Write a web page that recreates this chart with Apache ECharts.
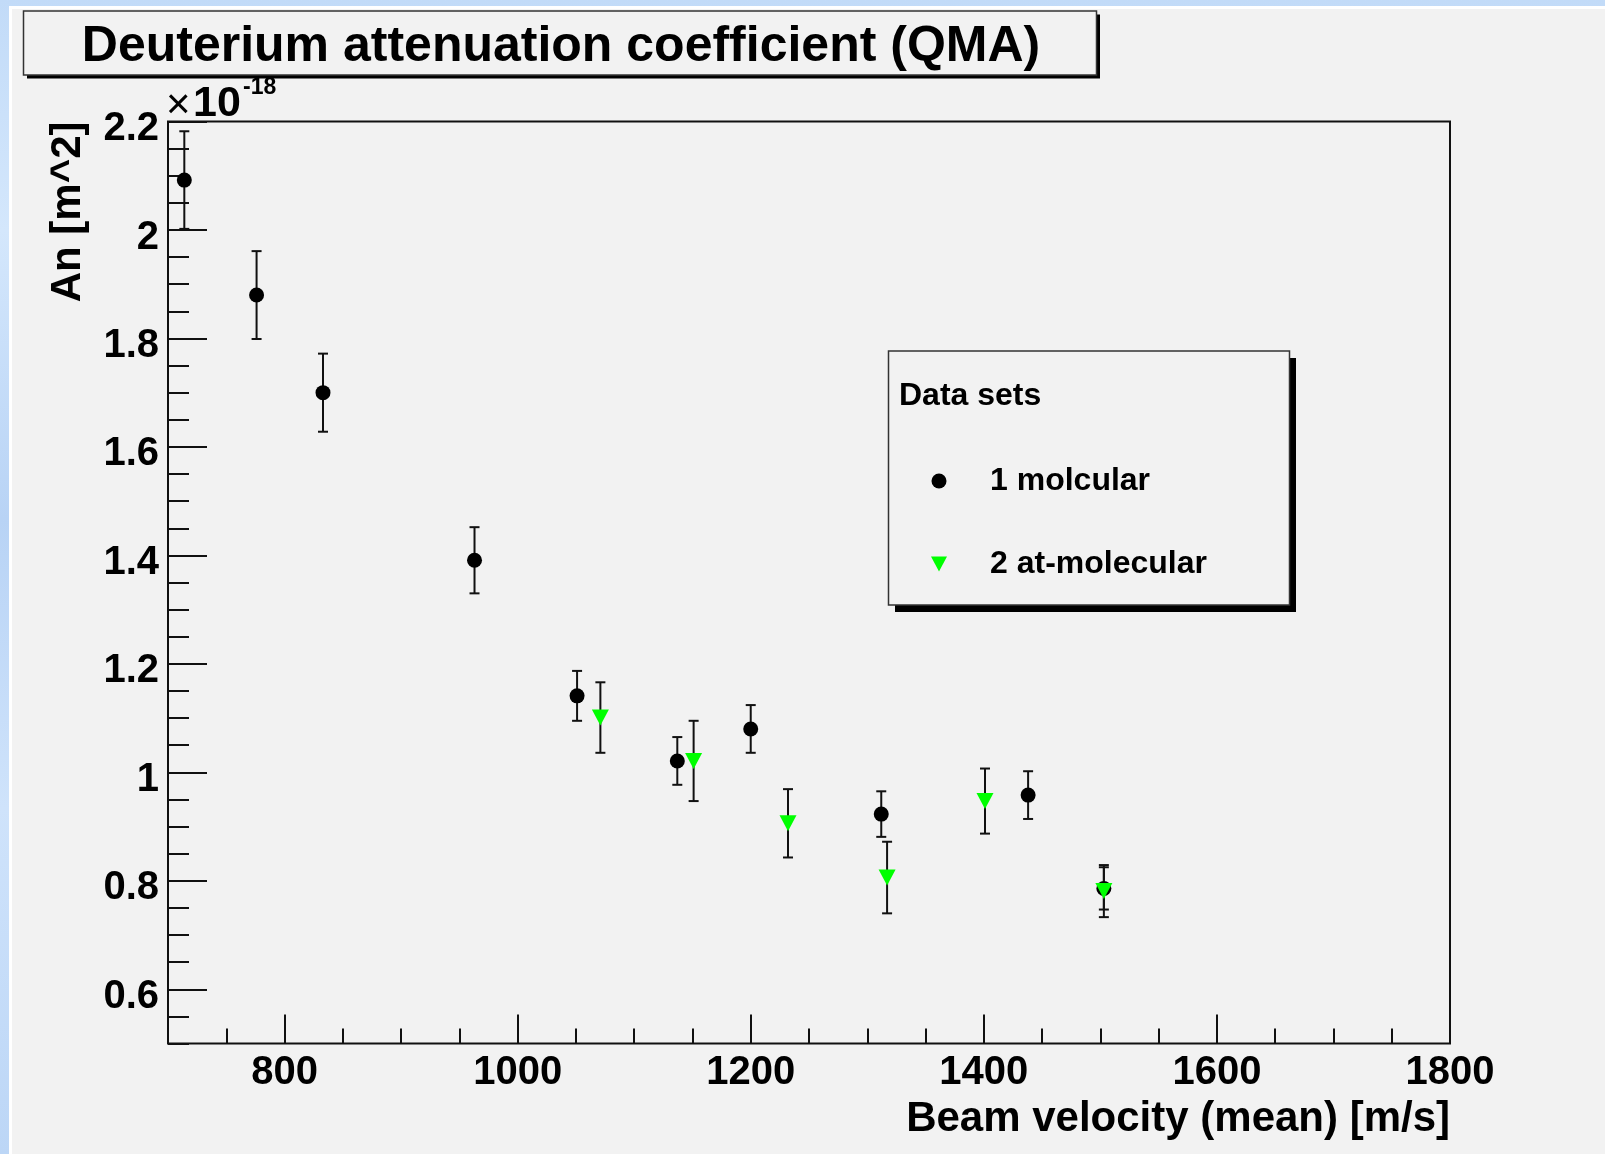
<!DOCTYPE html>
<html>
<head>
<meta charset="utf-8">
<script src="https://cdn.jsdelivr.net/npm/echarts@6/dist/echarts.min.js"></script>
<style>
html, body { margin: 0; padding: 0; width: 1605px; height: 1154px; overflow: hidden;
  background: linear-gradient(180deg, #c2dbf8 0%, #d4e7fc 20%, #b8d3f5 45%, #cfe3fb 70%, #bcd6f6 100%); }
#white { position: absolute; left: 9px; top: 6px; right: 0; bottom: 0; background: #ffffff; }
#gray { position: absolute; left: 12px; top: 9px; right: 0; bottom: 0; background: #f2f2f2; }
#chart { position: absolute; left: 0; top: 0; width: 1605px; height: 1154px; }
</style>
</head>
<body>
<div id="white"></div>
<div id="gray"></div>
<div id="chart"></div>
<script>
// ---- data (An in units of 1e-18 m^2) ----
const chartTitle = 'Deuterium attenuation coefficient (QMA)';
const xTitle = 'Beam velocity (mean) [m/s]';
const yTitle = 'An [m^2]';
const legendTitle = 'Data sets';
const seriesNames = ['1 molcular', '2 at-molecular'];

const velocity1 = [714, 776, 833, 963, 1051, 1137, 1200, 1312, 1438, 1503];
const an1       = [2.092, 1.880, 1.700, 1.391, 1.141, 1.021, 1.080, 0.923, 0.958, 0.786];
const err1      = [0.090, 0.081, 0.072, 0.061, 0.046, 0.044, 0.044, 0.042, 0.044, 0.039];

const velocity2 = [1071, 1151, 1232, 1317, 1401, 1503];
const an2       = [1.101, 1.021, 0.906, 0.806, 0.947, 0.781];
const err2      = [0.065, 0.074, 0.063, 0.066, 0.060, 0.048];

const xMin = 700, xMax = 1800, xMinorStep = 50;
const yMin = 0.5, yMax = 2.2, yMinorStep = 0.05;
const xMajorTicks = [800, 1000, 1200, 1400, 1600, 1800];
const yMajorTicks = [0.6, 0.8, 1, 1.2, 1.4, 1.6, 1.8, 2, 2.2];
const exponentTimes = '\u00d7';
const exponentBase = '10';
const exponentPower = '-18';

// ---- build ----
const FONT = 'Liberation Sans';
const pts1 = velocity1.map((v, i) => [v, an1[i], err1[i]]);
const pts2 = velocity2.map((v, i) => [v, an2[i], err2[i]]);
const downTri = 'path://M0,0 L16,0 L8,15 Z';

function errBar(params, api) {
  const x = api.value(0), y = api.value(1), e = api.value(2);
  const t = api.coord([x, y + e]);
  const b = api.coord([x, y - e]);
  const cw = 5;
  const st = { stroke: '#111', lineWidth: 2, fill: null };
  return { type: 'group', children: [
    { type: 'line', shape: { x1: t[0], y1: t[1], x2: b[0], y2: b[1] }, style: st },
    { type: 'line', shape: { x1: t[0] - cw, y1: t[1], x2: t[0] + cw, y2: t[1] }, style: st },
    { type: 'line', shape: { x1: b[0] - cw, y1: b[1], x2: b[0] + cw, y2: b[1] }, style: st }
  ]};
}

const G = { left: 168, top: 121.5, right: 155, bottom: 110.5 };

const chart = echarts.init(document.getElementById('chart'), null, { renderer: 'canvas' });
chart.setOption({
  backgroundColor: 'transparent',
  animation: false,
  textStyle: { fontFamily: FONT },
  grid: { left: G.left, top: G.top, right: G.right, bottom: G.bottom, show: true,
          borderColor: '#111', borderWidth: 2, backgroundColor: 'transparent', containLabel: false },
  xAxis: [
    { type: 'value', min: xMin, max: xMax, position: 'bottom',
      axisLine: { show: false }, splitLine: { show: false },
      axisTick: { show: true, inside: true, length: 29, customValues: xMajorTicks, lineStyle: { color: '#111', width: 2 } },
      axisLabel: { show: true, customValues: xMajorTicks, margin: 9, color: '#000', fontSize: 40, fontWeight: 'bold', fontFamily: FONT,
        formatter: v => String(v) } },
    { type: 'value', min: xMin, max: xMax, interval: xMinorStep, position: 'bottom', offset: 0,
      axisLine: { show: false }, splitLine: { show: false }, axisLabel: { show: false },
      axisTick: { show: true, inside: true, length: 15, lineStyle: { color: '#111', width: 2 } } }
  ],
  yAxis: [
    { type: 'value', min: yMin, max: yMax, position: 'left',
      axisLine: { show: false }, splitLine: { show: false },
      axisTick: { show: true, inside: true, length: 39, customValues: yMajorTicks, lineStyle: { color: '#111', width: 2 } },
      axisLabel: { show: true, customValues: yMajorTicks, margin: 9, color: '#000', fontSize: 40, fontWeight: 'bold', fontFamily: FONT,
        verticalAlign: 'top', lineHeight: 15, formatter: v => String(v) } },
    { type: 'value', min: yMin, max: yMax, interval: yMinorStep, position: 'left', offset: 0,
      axisLine: { show: false }, splitLine: { show: false }, axisLabel: { show: false },
      axisTick: { show: true, inside: true, length: 21, lineStyle: { color: '#111', width: 2 } } }
  ],
  legend: {
    data: seriesNames, orient: 'vertical', left: 931, top: 465, padding: 0,
    itemWidth: 92, itemHeight: 15, itemGap: 51, selectedMode: false,
    textStyle: { fontSize: 32, fontWeight: 'bold', color: '#000', fontFamily: FONT, lineHeight: 32 }
  },
  series: [
    { name: 'err1', type: 'custom', xAxisIndex: 0, yAxisIndex: 0, renderItem: errBar,
      data: pts1, encode: { x: 0, y: 1 }, z: 2, silent: true },
    { name: 'err2', type: 'custom', xAxisIndex: 0, yAxisIndex: 0, renderItem: errBar,
      data: pts2, encode: { x: 0, y: 1 }, z: 2, silent: true },
    { name: seriesNames[0], type: 'scatter', xAxisIndex: 0, yAxisIndex: 0, symbol: 'circle', symbolSize: 15,
      itemStyle: { color: '#000', opacity: 1 }, data: pts1.map(p => [p[0], p[1]]), z: 3 },
    { name: seriesNames[1], type: 'scatter', xAxisIndex: 0, yAxisIndex: 0, symbol: downTri, symbolSize: [17, 16],
      itemStyle: { color: '#00ff00', opacity: 1 }, data: pts2.map(p => [p[0], p[1]]), z: 4 }
  ],
  graphic: [
    // title box with shadow
    { type: 'rect', shape: { x: 27, y: 14.5, width: 1073, height: 64 }, style: { fill: '#000' }, z: 10 },
    { type: 'rect', shape: { x: 23.5, y: 11, width: 1073, height: 64 }, style: { fill: '#f2f2f2', stroke: '#333', lineWidth: 1.5 }, z: 11 },
    { type: 'text', x: 561, y: 47, style: { text: chartTitle, fontFamily: FONT, fontSize: 50, fontWeight: 'bold',
      fill: '#000', align: 'center', verticalAlign: 'middle' }, z: 12 },
    // exponent
    { type: 'text', x: 166, y: 106, style: { text: exponentTimes, fontFamily: FONT, fontSize: 42, fontWeight: 'normal',
      fill: '#000', align: 'left', verticalAlign: 'middle' }, z: 12 },
    { type: 'text', x: 193, y: 104, style: { text: exponentBase, fontFamily: FONT, fontSize: 43, fontWeight: 'bold',
      fill: '#000', align: 'left', verticalAlign: 'middle' }, z: 12 },
    { type: 'text', x: 243, y: 88, style: { text: exponentPower, fontFamily: FONT, fontSize: 23, fontWeight: 'bold',
      fill: '#000', align: 'left', verticalAlign: 'middle' }, z: 12 },
    // axis titles
    { type: 'text', x: 1450, y: 1119.5, style: { text: xTitle, fontFamily: FONT, fontSize: 42, fontWeight: 'bold',
      fill: '#000', align: 'right', verticalAlign: 'middle' }, z: 12 },
    { type: 'text', x: 68, y: 121.5, rotation: Math.PI / 2, style: { text: yTitle, fontFamily: FONT, fontSize: 42, fontWeight: 'bold',
      fill: '#000', align: 'right', verticalAlign: 'middle' }, z: 12 },
    // legend box with shadow
    { type: 'rect', shape: { x: 895, y: 358, width: 401, height: 254 }, style: { fill: '#000' }, z: 0 },
    { type: 'rect', shape: { x: 888.5, y: 351, width: 401, height: 254 }, style: { fill: '#f2f2f2', stroke: '#333', lineWidth: 1.5 }, z: 1 },
    { type: 'text', x: 899, y: 396, style: { text: legendTitle, fontFamily: FONT, fontSize: 32, fontWeight: 'bold',
      fill: '#000', align: 'left', verticalAlign: 'middle' }, z: 12 }
  ]
});
</script>
</body>
</html>
